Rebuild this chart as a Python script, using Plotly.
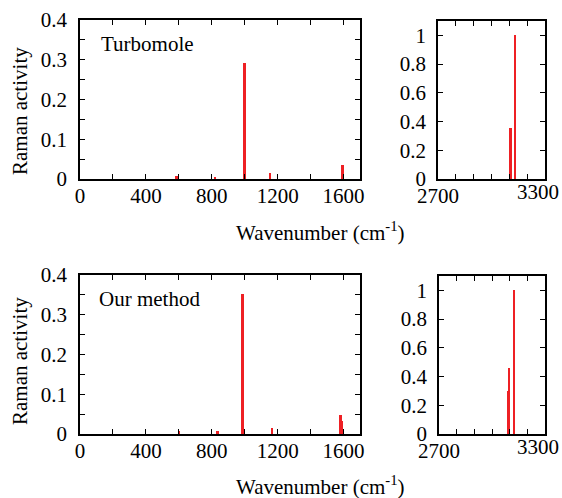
import plotly.graph_objects as go

# ---- data ----
turbo_low_x = [588, 821, 999, 1156, 1596]
turbo_low_y = [0.008, 0.006, 0.291, 0.015, 0.034]
turbo_high_x = [3107, 3131]
turbo_high_y = [0.356, 1.0]

ours_low_x = [602, 835, 987, 1166, 1582, 1590]
ours_low_y = [0.007, 0.007, 0.352, 0.014, 0.047, 0.032]
ours_high_x = [3093, 3097, 3124]
ours_high_y = [0.30, 0.46, 1.0]

low_ticks = list(range(0, 1800, 200))
low_ticktext = [str(v) if v % 400 == 0 else "" for v in low_ticks]
high_ticks = list(range(2700, 3400, 100))
high_ticktext = ["2700", "", "", "", "", "", ""]   # 3300 drawn as annotation (shifted to fit)
high_edge_label = 3300
ly_ticks = [0, 0.05, 0.1, 0.15, 0.2, 0.25, 0.3, 0.35, 0.4]
ly_ticktext = ["0", "", "0.1", "", "0.2", "", "0.3", "", "0.4"]
hy_ticks = [0, 0.2, 0.4, 0.6, 0.8, 1.0]
hy_ticktext = ["0", "0.2", "0.4", "0.6", "0.8", "1"]

RED = "#ee2024"
FONT = "Liberation Serif"
W, H = 562, 498

fig = go.Figure()

def add_bars(x, y, xa, ya, width):
    fig.add_trace(go.Bar(x=x, y=y, xaxis=xa, yaxis=ya, width=width,
                         marker=dict(color=RED, line=dict(width=0)),
                         showlegend=False))

add_bars(turbo_low_x, turbo_low_y, "x", "y", 12)
add_bars(turbo_high_x, turbo_high_y, "x2", "y2", 14)
add_bars(ours_low_x, ours_low_y, "x3", "y3", 12)
add_bars(ours_high_x, ours_high_y, "x4", "y4", 14)

def px_x(a, b):
    return [a / W, b / W]

def px_y(top, bottom):
    return [1 - bottom / H, 1 - top / H]

common = dict(showline=True, linecolor="black", linewidth=1.5, mirror="allticks",
              ticks="inside", ticklen=5, tickwidth=1.2, tickcolor="black",
              showgrid=False, zeroline=False, tickmode="array", automargin=False,
              tickfont=dict(family=FONT, size=21, color="black"))

def axis(dom, anchor, rng, tv, tt, standoff):
    return dict(common, domain=dom, anchor=anchor, range=rng, tickvals=tv,
                ticktext=tt, ticklabelstandoff=standoff)

fig.update_layout(
    width=W, height=H, margin=dict(l=0, r=0, t=0, b=0, pad=0, autoexpand=False),
    autosize=False,
    plot_bgcolor="white", paper_bgcolor="white", bargap=0, barmode="overlay",
    font=dict(family=FONT, color="black"),
    xaxis=axis(px_x(80, 360), "y", [0, 1700], low_ticks, low_ticktext, -3),
    yaxis=axis(px_y(20, 179), "x", [0, 0.4], ly_ticks, ly_ticktext, 7),
    xaxis2=axis(px_x(438, 545), "y2", [2700, 3300], high_ticks, high_ticktext, -3),
    yaxis2=axis(px_y(21, 179), "x2", [0, 1.1], hy_ticks, hy_ticktext, 6),
    xaxis3=axis(px_x(80, 360), "y3", [0, 1700], low_ticks, low_ticktext, -3),
    yaxis3=axis(px_y(275, 434), "x3", [0, 0.4], ly_ticks, ly_ticktext, 7),
    xaxis4=axis(px_x(439, 545), "y4", [2700, 3300], high_ticks, high_ticktext, -3),
    yaxis4=axis(px_y(276, 434), "x4", [0, 1.1], hy_ticks, hy_ticktext, 6),
)

def ann(text, x, y, size, angle=0, xanchor="center"):
    fig.add_annotation(text=text, x=x / W, y=1 - y / H, xref="paper", yref="paper",
                       showarrow=False, textangle=angle, xanchor=xanchor, yanchor="middle",
                       font=dict(family=FONT, size=size, color="black"))

ann("Turbomole", 99, 44, 21, xanchor="left")
ann("Our method", 97, 299, 21, xanchor="left")
ann("Raman activity", 20, 111, 21, angle=-90)
ann("Raman activity", 20, 361, 21, angle=-90)
ann("Wavenumber (cm<sup>-1</sup>)", 320, 231, 21)
ann("Wavenumber (cm<sup>-1</sup>)", 320, 485, 21)

# edge tick label "3300" placed on the axis scale, nudged left to stay in view
for xr, yr in (("x2", "y2 domain"), ("x4", "y4 domain")):
    fig.add_annotation(text=str(high_edge_label), x=high_edge_label, y=0, xref=xr, yref=yr,
                       xanchor="right", yanchor="top", xshift=16, yshift=1, showarrow=False,
                       font=dict(family=FONT, size=21, color="black"))

fig.write_html("out.html")
